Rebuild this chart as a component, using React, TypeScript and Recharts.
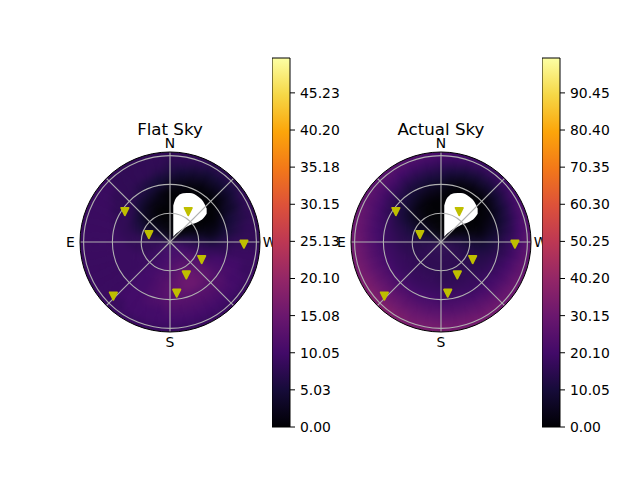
import {
  Area, Bar, BarChart, Cell, ComposedChart, Pie, PieChart, PolarAngleAxis, PolarGrid, Radar, RadarChart,
  ReferenceDot, Scatter, XAxis, YAxis,
} from 'recharts'

// sky brightness, one row per ring from zenith out, one column per 10 deg of bearing (clockwise on screen from N)
const FLAT_SKY = [
  [3, 2, 1, 1, 1, 2, 3, 5, 7, 8, 8, 9, 9, 9, 9, 9, 9, 9, 9, 9, 9, 9, 9, 9, 9, 9, 8, 8, 7, 6, 5, 5, 4, 4, 3, 3],
  [1, 0, 0, 0, 0, 1, 2, 4, 6, 8, 8, 9, 10, 10, 10, 10, 10, 10, 10, 10, 10, 10, 9, 9, 9, 8, 8, 8, 7, 6, 5, 4, 3, 2, 2, 1],
  [1, 0, 0, 0, 0, 0, 1, 3, 5, 7, 8, 9, 10, 11, 11, 11, 11, 11, 11, 10, 10, 10, 9, 9, 9, 8, 8, 8, 7, 6, 4, 3, 2, 1, 1, 0],
  [0, 0, 0, 0, 0, 0, 0, 2, 4, 6, 8, 9, 11, 12, 12, 13, 13, 12, 12, 11, 10, 10, 9, 9, 9, 8, 8, 8, 7, 6, 4, 3, 1, 1, 0, 0],
  [0, 0, 0, 0, 0, 0, 0, 1, 3, 6, 8, 9, 11, 13, 13, 14, 14, 13, 12, 11, 11, 10, 10, 9, 9, 9, 8, 8, 8, 6, 5, 3, 2, 1, 0, 0],
  [0, 0, 0, 0, 0, 0, 0, 1, 2, 5, 8, 9, 11, 13, 14, 15, 15, 14, 13, 12, 11, 10, 10, 9, 9, 9, 9, 8, 8, 7, 6, 5, 3, 2, 1, 1],
  [0, 0, 0, 0, 0, 0, 0, 1, 3, 6, 8, 10, 11, 13, 14, 15, 15, 14, 13, 12, 11, 10, 10, 9, 9, 9, 9, 9, 8, 8, 8, 7, 5, 4, 3, 1],
  [2, 1, 0, 0, 0, 0, 1, 3, 5, 7, 8, 10, 11, 12, 13, 13, 13, 13, 13, 12, 11, 10, 10, 9, 9, 9, 9, 9, 9, 8, 8, 8, 7, 6, 5, 4],
  [4, 3, 2, 1, 1, 1, 3, 5, 6, 8, 9, 10, 11, 12, 12, 12, 12, 12, 12, 11, 11, 10, 10, 9, 9, 9, 9, 9, 9, 9, 8, 8, 8, 7, 6, 5],
  [6, 5, 4, 3, 3, 3, 4, 6, 7, 8, 9, 10, 10, 11, 11, 11, 11, 11, 11, 10, 10, 10, 10, 9, 9, 9, 9, 9, 9, 9, 9, 8, 8, 8, 8, 7],
  [7, 7, 6, 5, 5, 5, 6, 7, 8, 8, 9, 9, 10, 10, 10, 10, 10, 10, 10, 10, 10, 10, 9, 9, 9, 9, 9, 9, 9, 9, 9, 9, 8, 8, 8, 8],
  [8, 8, 8, 7, 7, 7, 8, 8, 8, 8, 9, 9, 9, 9, 9, 9, 9, 9, 9, 9, 9, 9, 9, 9, 9, 9, 9, 9, 9, 9, 9, 9, 8, 8, 8, 8],
]

const ACTUAL_SKY = [
  [4, 3, 2, 2, 2, 3, 5, 8, 11, 13, 14, 15, 15, 15, 15, 15, 15, 15, 15, 15, 15, 15, 15, 15, 15, 14, 14, 14, 13, 11, 9, 8, 7, 6, 5, 4],
  [1, 0, 0, 0, 0, 1, 3, 6, 9, 12, 14, 14, 15, 15, 15, 15, 15, 15, 15, 15, 15, 15, 15, 15, 15, 14, 14, 13, 12, 10, 8, 6, 4, 3, 2, 1],
  [0, 0, 0, 0, 0, 0, 1, 4, 8, 11, 13, 14, 14, 15, 15, 15, 15, 15, 15, 15, 15, 15, 15, 15, 15, 14, 14, 13, 12, 10, 7, 5, 3, 2, 1, 0],
  [0, 0, 0, 0, 0, 0, 0, 2, 6, 9, 12, 13, 14, 15, 15, 15, 15, 15, 15, 15, 15, 15, 15, 15, 15, 14, 14, 13, 12, 10, 7, 5, 3, 1, 0, 0],
  [0, 0, 0, 0, 0, 0, 0, 1, 4, 8, 11, 13, 14, 15, 15, 15, 15, 15, 15, 16, 16, 16, 16, 16, 16, 15, 15, 14, 13, 11, 8, 5, 3, 1, 0, 0],
  [0, 0, 0, 0, 0, 0, 0, 1, 3, 8, 11, 13, 14, 15, 16, 16, 16, 16, 16, 17, 17, 17, 17, 17, 17, 17, 16, 15, 14, 13, 10, 7, 4, 2, 1, 0],
  [2, 0, 0, 0, 0, 0, 1, 3, 6, 10, 12, 14, 15, 16, 17, 17, 17, 17, 18, 18, 18, 18, 18, 18, 18, 18, 18, 17, 16, 14, 12, 10, 8, 6, 4, 3],
  [5, 2, 0, 0, 0, 1, 2, 5, 8, 12, 14, 16, 17, 18, 18, 18, 19, 19, 19, 20, 20, 20, 21, 21, 20, 20, 19, 18, 18, 17, 15, 13, 11, 9, 8, 6],
  [9, 6, 4, 3, 3, 4, 6, 9, 12, 15, 16, 18, 19, 20, 21, 21, 22, 22, 22, 23, 23, 24, 24, 24, 24, 23, 22, 21, 20, 19, 17, 16, 14, 12, 11, 10],
  [13, 11, 9, 8, 8, 9, 11, 13, 15, 17, 19, 21, 22, 23, 24, 25, 25, 25, 26, 26, 27, 27, 28, 28, 27, 26, 25, 24, 23, 22, 21, 19, 18, 16, 15, 14],
  [17, 16, 14, 13, 13, 14, 16, 18, 20, 21, 23, 25, 26, 27, 28, 28, 29, 29, 29, 30, 30, 31, 31, 31, 31, 30, 29, 28, 27, 26, 24, 23, 22, 20, 19, 18],
  [21, 20, 19, 18, 18, 19, 21, 23, 24, 26, 27, 28, 30, 30, 31, 32, 32, 32, 33, 33, 33, 34, 35, 35, 34, 33, 32, 31, 30, 29, 27, 26, 25, 24, 23, 22],
]

// masked patch around the moon, degrees east/north of zenith
const MASK_X = [-3.4, -5.2, -8.6, -13.9, -20.8, -29.5, -34.7, -38.2]
const MASK_LOW = [5.5, 7.5, 10.5, 14, 17.7, 21, 24.7, 29.5]
const MASK_HIGH = [38, 43.7, 48.2, 50.7, 51, 47.2, 42, 35]

const STAR_X = [-19, 47, 22, -77, -33, -17, -7, 59]
const STAR_Y = [32, 32, 8, -2, -18, -34, -53, -56]

const COMPASS = ['N', 'W', 'S', 'E']
const ALT_RINGS = [30, 60, 90]
const SPOKES = [0, 45, 90, 135, 180, 225, 270, 315]

const FLAT_TICKS = [0, 5.03, 10.05, 15.08, 20.1, 25.13, 30.15, 35.18, 40.2, 45.23]
const ACTUAL_TICKS = [0, 10.05, 20.1, 30.15, 40.2, 50.25, 60.3, 70.35, 80.4, 90.45]

const INFERNO = ['#000004', '#160b39', '#420a68', '#6a176e', '#932667', '#bc3754', '#dd513a', '#f37819', '#fca50a', '#f6d746', '#fcffa4']

const PX_PER_DEG = 0.96
const SIZE = 240
const RING_WIDTH = 7.5
const FONT = '"DejaVu Sans", sans-serif'

function inferno(t: number) {
  const pos = Math.min(Math.max(t, 0), 1) * (INFERNO.length - 1)
  const i = Math.min(Math.floor(pos), INFERNO.length - 2)
  const f = pos - i
  const ch = (hex: string, k: number) => parseInt(hex.slice(k, k + 2), 16)
  const mix = (k: number) => Math.round(ch(INFERNO[i], k) * (1 - f) + ch(INFERNO[i + 1], k) * f)
  return `rgb(${mix(1)},${mix(3)},${mix(5)})`
}

function StarMarker({ cx, cy }: any) {
  return <path d={`M${cx - 3.7} ${cy - 3.4}H${cx + 3.7}L${cx} ${cy + 4}Z`} fill="#bfbf00" stroke="#bfbf00" strokeWidth={1.8} strokeLinejoin="round" />
}

function CompassTick({ x, y, payload }: any) {
  return (
    <text x={x} y={y} textAnchor="middle" dominantBaseline="central" fontSize={13.9} fontFamily={FONT} fill="#000">
      {payload.value}
    </text>
  )
}

function SkyMap({ title, sky, max, cx, cy }: { title: string; sky: number[][]; max: number; cx: number; cy: number }) {
  const mask = MASK_X.map((x, i) => ({ x, range: [MASK_LOW[i], MASK_HIGH[i]] }))
  const stars = STAR_X.map((x, i) => ({ x, y: STAR_Y[i] }))
  const compass = COMPASS.map(name => ({ name, v: 0 }))
  const layer = { position: 'absolute', left: cx - SIZE / 2, top: cy - SIZE / 2, width: SIZE, height: SIZE } as const
  const domain = [-SIZE / 2 / PX_PER_DEG, SIZE / 2 / PX_PER_DEG]
  return (
    <>
      <div style={{ ...layer, clipPath: 'circle(90px)' }}>
        <div style={{ filter: 'blur(3px)' }}>
          <PieChart width={SIZE} height={SIZE} margin={{ top: 0, right: 0, bottom: 0, left: 0 }}>
            {sky.map((ring, r) => (
              <Pie
                key={r}
                data={ring.map(v => ({ v, weight: 1 }))}
                dataKey="weight"
                innerRadius={r * RING_WIDTH}
                outerRadius={r === sky.length - 1 ? 105 : (r + 1) * RING_WIDTH + 0.4}
                startAngle={95}
                endAngle={-265}
                isAnimationActive={false}
                legendType="none"
              >
                {ring.map((v, i) => (
                  <Cell key={i} fill={inferno(v / max)} stroke={inferno(v / max)} strokeWidth={0.5} />
                ))}
              </Pie>
            ))}
          </PieChart>
        </div>
      </div>
      <div style={layer}>
        <ComposedChart width={SIZE} height={SIZE} data={mask} margin={{ top: 0, right: 0, bottom: 0, left: 0 }}>
          <XAxis type="number" dataKey="x" domain={domain} hide reversed />
          <YAxis type="number" domain={domain} hide />
          <Area dataKey="range" type="monotone" fill="#fff" fillOpacity={1} stroke="none" isAnimationActive={false} />
        </ComposedChart>
      </div>
      <div style={layer}>
        <RadarChart width={SIZE} height={SIZE} data={compass} outerRadius={90} margin={{ top: 0, right: 0, bottom: 0, left: 0 }}>
          <PolarGrid
            gridType="circle"
            polarRadius={ALT_RINGS.map(a => a * PX_PER_DEG)}
            polarAngles={SPOKES}
            stroke="#b0b0b0"
            strokeWidth={1.1}
          />
          <PolarAngleAxis dataKey="name" tick={CompassTick} tickLine={false} axisLine={false} tickSize={9.5} />
          <Radar dataKey="v" fill="none" stroke="none" isAnimationActive={false} />
        </RadarChart>
      </div>
      <div style={layer}>
        <ComposedChart width={SIZE} height={SIZE} margin={{ top: 0, right: 0, bottom: 0, left: 0 }}>
          <XAxis type="number" dataKey="x" domain={domain} hide reversed />
          <YAxis type="number" dataKey="y" domain={domain} hide />
          <ReferenceDot x={0} y={0} r={90} fill="none" stroke="#000" strokeWidth={1} ifOverflow="visible" />
          <Scatter data={stars} dataKey="y" shape={StarMarker} isAnimationActive={false} />
        </ComposedChart>
      </div>
      <div style={{ position: 'absolute', left: cx - 80, width: 160, top: 121, textAlign: 'center', fontFamily: FONT, fontSize: 16.67, lineHeight: '17px', color: '#000' }}>
        {title}
      </div>
    </>
  )
}

function ColorBar({ id, ticks, max, left }: { id: string; ticks: number[]; max: number; left: number }) {
  return (
    <div style={{ position: 'absolute', left, top: 48 }}>
      <BarChart
        width={80}
        height={390}
        data={[{ name: 'scale', value: max }]}
        margin={{ top: 10, right: 0, bottom: 11, left: 0 }}
        barCategoryGap={0}
      >
        <defs>
          <linearGradient id={id} x1="0" y1="1" x2="0" y2="0">
            {INFERNO.map((c, i) => (
              <stop key={c} offset={i / (INFERNO.length - 1)} stopColor={c} />
            ))}
          </linearGradient>
        </defs>
        <XAxis dataKey="name" hide />
        <YAxis
          orientation="right"
          width={62}
          domain={[0, max]}
          ticks={ticks}
          interval={0}
          tickFormatter={(v: number) => v.toFixed(2)}
          axisLine={false}
          tickSize={5}
          tickMargin={5}
          tick={{ fontSize: 13.9, fontFamily: FONT, fill: '#000' }}
          tickLine={{ stroke: '#000' }}
        />
        <Bar dataKey="value" fill={`url(#${id})`} stroke="#000" strokeWidth={1} isAnimationActive={false} />
      </BarChart>
    </div>
  )
}

export default function App() {
  return (
    <div style={{ position: 'absolute', left: 0, top: 0, width: 640, height: 480, background: '#fff', overflow: 'hidden' }}>
      <SkyMap title="Flat Sky" sky={FLAT_SKY} max={49.95} cx={170} cy={242} />
      <ColorBar id="flatScale" ticks={FLAT_TICKS} max={49.95} left={272} />
      <SkyMap title="Actual Sky" sky={ACTUAL_SKY} max={99.9} cx={441} cy={242} />
      <ColorBar id="actualScale" ticks={ACTUAL_TICKS} max={99.9} left={542} />
    </div>
  )
}
